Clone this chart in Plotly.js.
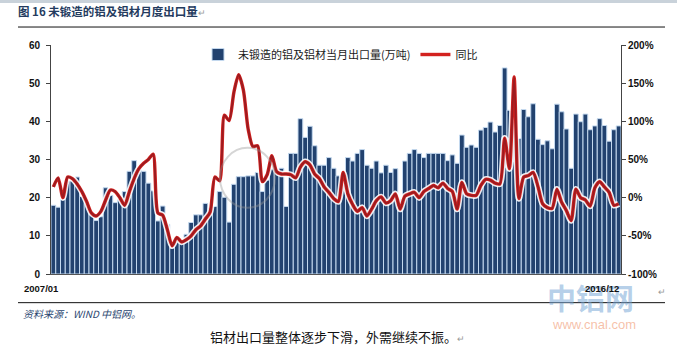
<!DOCTYPE html>
<html><head><meta charset="utf-8">
<script src="https://cdn.plot.ly/plotly-3.0.1.min.js"></script>
<style>html,body{margin:0;padding:0;background:#fff;}#chart{width:677px;height:351px;}</style>
</head><body><div id="chart"></div>
<script>
// Categories: months 2007/01 .. 2016/12
const firstYear = 2007, lastYear = 2016;
const months = [];
for (let y = firstYear; y <= lastYear; y++) for (let m = 1; m <= 12; m++) months.push(y + '/' + String(m).padStart(2, '0'));

// 未锻造的铝及铝材当月出口量(万吨)
const exportVolume = [
  18.0, 17.5, 19.5, 24.4, 24.4, 25.4, 20.3, 18.5, 15.8, 14.0, 15.0, 22.6,
  20.6, 18.7, 19.7, 21.6, 26.9, 29.7, 27.5, 26.9, 23.8, 21.8, 13.9, 17.8,
  13.0, 6.8, 9.2, 8.5, 10.4, 13.5, 15.5, 15.5, 18.5, 17.4, 17.7, 21.6,
  20.1, 13.6, 23.5, 25.5, 25.5, 25.7, 25.7, 26.6, 21.6, 24.6, 27.5, 26.5,
  27.7, 17.7, 31.6, 31.6, 40.7, 35.8, 38.7, 33.6, 28.5, 28.5, 30.5, 27.7,
  25.7, 24.5, 30.5, 29.6, 31.6, 32.6, 28.5, 27.7, 29.6, 26.5, 28.5, 26.6,
  27.6, 19.7, 29.6, 31.6, 32.6, 31.6, 30.5, 31.6, 31.6, 31.6, 31.6, 29.7,
  31.2, 29.0, 36.4, 33.2, 33.8, 33.2, 37.7, 38.4, 39.8, 37.2, 38.9, 54.0,
  42.9, 40.0, 35.5, 43.1, 41.2, 44.6, 35.3, 33.9, 34.9, 32.8, 44.5, 42.5,
  38.0, 27.7, 41.9, 39.9, 41.9, 37.8, 38.8, 40.7, 38.9, 34.8, 37.8, 38.8
];

// 同比 (%)
const yoyPct = [
  14, 26, 0, 27, 25, 18, 8, -5, -20, -24, -18, -3,
  10, 8, 0, -10, 8, 25, 38, 45, 50, 57, -20, -23,
  -42, -63, -52, -58, -55, -50, -42, -37, -28, -19, 27, 22,
  108, 101, 138, 161, 141, 90, 67, 68, 21, 30, 55, 34,
  31, 31, 30, 26, 40, 47, 43, 31, 25, 14, 7, -1,
  -5, 33, 5, -9, -18, -13, -24, -15, -4, 1, -7, -4,
  5, -15, 2, 5, 7, 0, 8, 12, 16, 13, 19, 12,
  8, -15, 20, 5, 3, 3, 16, 24, 23, 19, 18, 78,
  38, 158, -1, 27, 29, 33, 15, -8, -13, -14, 11, -6,
  -17, -30, 11, 0, -3, -11, 13, 21, 14, 7, -10, -8
];

const leftTickVals = [0, 10, 20, 30, 40, 50, 60];
const rightTickVals = [-100, -50, 0, 50, 100, 150, 200];
const rightTickText = ['-100%', '-50%', '0%', '50%', '100%', '150%', '200%'];
const seriesNames = ['未锻造的铝及铝材当月出口量(万吨)', '同比'];
const endLabels = ['2007/01', '2016/12'];

const CJK = '"Noto Sans CJK SC", sans-serif';
const NUM = '"Liberation Sans", Arial, sans-serif';

const traces = [
  {
    type: 'bar', x: months, y: exportVolume, name: seriesNames[0], yaxis: 'y',
    marker: { color: '#22426F', line: { color: '#C3D8EE', width: 1 } },
    hoverinfo: 'x+y'
  },
  {
    type: 'scatter', mode: 'lines', x: months, y: yoyPct, yaxis: 'y2', showlegend: false,
    line: { color: 'rgba(255,255,255,0.9)', width: 6.5, shape: 'spline', smoothing: 0.7 }, hoverinfo: 'skip'
  },
  {
    type: 'scatter', mode: 'lines', x: months, y: yoyPct, yaxis: 'y2', name: seriesNames[1],
    line: { color: '#D3221F', width: 3.4, shape: 'spline', smoothing: 0.7 }
  },
  {
    type: 'scatter', mode: 'lines', x: months, y: yoyPct, yaxis: 'y2', showlegend: false,
    line: { color: '#9C1B20', width: 1.9, shape: 'spline', smoothing: 0.7 }, hoverinfo: 'skip'
  }
];

const pyPaper = px => (274.3 - px) / 229.3;
const pxPaper = px => (px - 51) / 570;

const layout = {
  width: 677, height: 351,
  margin: { l: 51, r: 56, t: 45, b: 77, pad: 0 },
  paper_bgcolor: '#ffffff', plot_bgcolor: '#ffffff',
  title: {
    text: '图 16 未锻造的铝及铝材月度出口量<span style="color:#9a9a9a;font-size:9px;font-weight:normal">↵</span>',
    font: { family: CJK, size: 11.5, color: '#243B5E', weight: 'bold' },
    x: 18 / 677, xanchor: 'left', xref: 'container',
    y: 1 - 12 / 351, yanchor: 'middle', yref: 'container'
  },
  barmode: 'overlay', bargap: 0,
  showlegend: true,
  legend: {
    orientation: 'h', x: pxPaper(198), xanchor: 'left', y: pyPaper(40), yanchor: 'top',
    font: { family: CJK, size: 11, color: '#1a1a1a' },
    bgcolor: 'rgba(255,255,255,0)', traceorder: 'normal', itemwidth: 30
  },
  xaxis: {
    type: 'category', showticklabels: false, ticks: '', showgrid: false, zeroline: false,
    showline: true, linecolor: '#555555', linewidth: 1, fixedrange: true
  },
  yaxis: {
    range: [0, 60], tickvals: leftTickVals, ticks: 'outside', ticklen: 4, tickcolor: '#444',
    showline: true, linecolor: '#444444', linewidth: 1, showgrid: false, zeroline: false,
    tickfont: { family: NUM, size: 10, color: '#111', weight: 'bold' }, ticklabelstandoff: 4
  },
  yaxis2: {
    overlaying: 'y', side: 'right', range: [-100, 200], tickvals: rightTickVals, ticktext: rightTickText,
    ticks: 'outside', ticklen: 4, tickcolor: '#444', showline: true, linecolor: '#444444', linewidth: 1,
    showgrid: false, zeroline: false,
    tickfont: { family: NUM, size: 10, color: '#111', weight: 'bold' }
  },
  shapes: [
    { type: 'rect', xref: 'paper', yref: 'paper', x0: pxPaper(0), x1: pxPaper(677), y0: pyPaper(3), y1: pyPaper(0), fillcolor: '#C9D2DA', line: { width: 0 }, layer: 'below' },
    { type: 'line', xref: 'paper', yref: 'paper', x0: pxPaper(18), x1: pxPaper(665), y0: pyPaper(27), y1: pyPaper(27), line: { color: '#111', width: 1 } },
    { type: 'line', xref: 'paper', yref: 'paper', x0: pxPaper(18), x1: pxPaper(665), y0: pyPaper(303), y1: pyPaper(303), line: { color: '#111', width: 1 } },
    { type: 'circle', xref: 'paper', yref: 'paper', x0: pxPaper(220), x1: pxPaper(275), y0: pyPaper(208), y1: pyPaper(148), line: { color: 'rgba(150,150,150,0.4)', width: 2 }, layer: 'above' }
  ],
  annotations: [
    { text: '中铝网', xref: 'paper', yref: 'paper', x: pxPaper(590), y: pyPaper(297), xanchor: 'center', yanchor: 'middle', showarrow: false,
      font: { family: CJK, size: 29, color: 'rgba(120,168,214,0.55)', weight: 'bold' } },
    { text: 'www.cnal.com', xref: 'paper', yref: 'paper', x: pxPaper(594), y: pyPaper(325), xanchor: 'center', yanchor: 'middle', showarrow: false,
      font: { family: NUM, size: 13, color: 'rgba(240,150,110,0.6)' } },
    { text: endLabels[0], xref: 'paper', yref: 'paper', x: pxPaper(22), y: pyPaper(289), xanchor: 'left', yanchor: 'middle', showarrow: false,
      font: { family: NUM, size: 9.5, color: '#111', weight: 'bold' } },
    { text: endLabels[1], xref: 'paper', yref: 'paper', x: pxPaper(621), y: pyPaper(289), xanchor: 'right', yanchor: 'middle', showarrow: false,
      font: { family: NUM, size: 9.5, color: '#111', weight: 'bold' } },
    { text: '↵', xref: 'paper', yref: 'paper', x: pxPaper(662), y: pyPaper(292), xanchor: 'center', yanchor: 'middle', showarrow: false,
      font: { family: NUM, size: 9, color: '#999' } },
    { text: '<i>资料来源：WIND 中铝网。</i>', xref: 'paper', yref: 'paper', x: pxPaper(21), y: pyPaper(314), xanchor: 'left', yanchor: 'middle', showarrow: false,
      font: { family: CJK, size: 10, color: '#2A4670' } },
    { text: '铝材出口量整体逐步下滑，外需继续不振。<span style="color:#999;font-size:9px">↵</span>', xref: 'paper', yref: 'paper', x: pxPaper(337), y: pyPaper(337), xanchor: 'center', yanchor: 'middle', showarrow: false,
      font: { family: CJK, size: 13, color: '#111' } }
  ]
};

Plotly.newPlot('chart', traces, layout, { displayModeBar: false, staticPlot: true });
</script>
</body></html>
